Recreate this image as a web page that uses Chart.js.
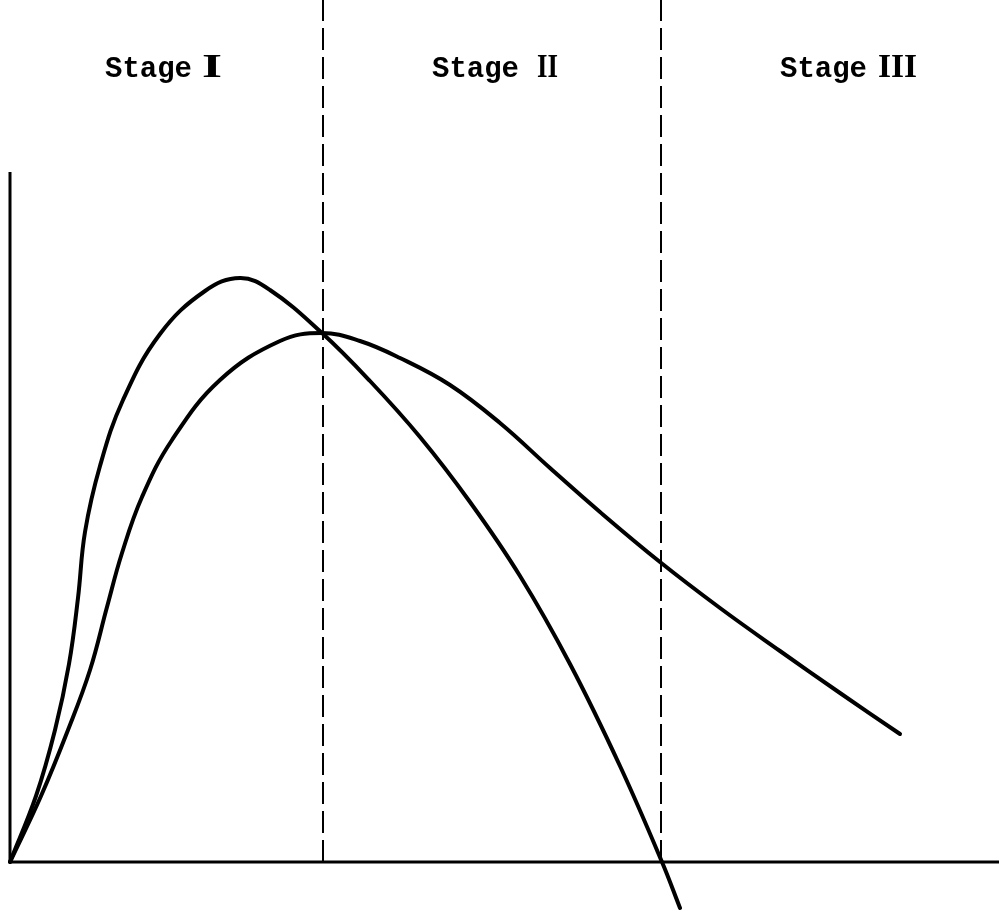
<!DOCTYPE html>
<html>
<head>
<meta charset="utf-8">
<script src="https://cdn.jsdelivr.net/npm/chart.js@4/dist/chart.umd.min.js"></script>
<style>
  html, body { margin: 0; padding: 0; background: #fff; }
  #wrap { width: 999px; height: 910px; }
</style>
</head>
<body>
<div id="wrap"><canvas id="stagesChart" width="999" height="910"></canvas></div>
<script>
// values (input on x, output on y, arbitrary units)
const mpX = [0, 2.6, 4.5, 5.9, 6.8, 7.5, 9.0, 11.3, 15.0, 19.5, 23.0, 26.0, 31.2, 36.0, 41.0, 46.0, 51.0, 56.0, 61.0, 65.2, 67.0];
const mpY = [0, 6.6, 13.2, 19.8, 26.4, 33.0, 39.6, 46.2, 52.8, 57.1, 58.4, 57.2, 52.9, 48.1, 42.5, 36.0, 28.6, 19.8, 9.6, 0, -4.6];

const apX = [0, 3.1, 5.8, 8.0, 9.7, 11.2, 13.2, 16.2, 21.0, 27.0, 31.2, 35.0, 39.0, 44.0, 49.0, 54.0, 59.0, 65.0, 71.0, 77.0, 83.0, 89.0];
const apY = [0, 6.6, 13.2, 19.2, 25.5, 30.9, 36.5, 42.2, 48.2, 52.1, 52.9, 52.1, 50.4, 47.7, 43.9, 39.4, 35.0, 30.0, 25.4, 21.1, 16.9, 12.8];

const stageBounds = [31.3, 65.1];   // dashed dividers
const stageTop = 86.2;
const yAxisTop = 69;
const xAxisEnd = 98.9;

const stageWords = ['Stage', 'Stage', 'Stage'];
const stageNumerals = ['I', 'II', 'III'];

function toPoints(xs, ys) {
    return xs.map((x, i) => ({ x: x, y: ys[i] }));
}

const datasets = [
    {   // y axis
        data: [{ x: 0, y: 0 }, { x: 0, y: yAxisTop }],
        borderColor: '#000', borderWidth: 3
    },
    {   // x axis
        data: [{ x: 0, y: 0 }, { x: xAxisEnd, y: 0 }],
        borderColor: '#000', borderWidth: 3
    },
    {
        label: 'Marginal product',
        data: toPoints(mpX, mpY),
        borderColor: '#000', borderWidth: 4,
        tension: 0.4,
        borderCapStyle: 'round', borderJoinStyle: 'round'
    },
    {
        label: 'Average product',
        data: toPoints(apX, apY),
        borderColor: '#000', borderWidth: 4,
        tension: 0.4,
        borderCapStyle: 'round', borderJoinStyle: 'round'
    }
];

stageBounds.forEach(b => {
    datasets.push({
        data: [{ x: b, y: 0 }, { x: b, y: stageTop }],
        borderColor: '#000', borderWidth: 2,
        borderDash: [22, 7]
    });
});

// stage names at the top of each region
const stageLabels = {
    id: 'stageLabels',
    afterDatasetsDraw(chart) {
        const ctx = chart.ctx;
        const xs = chart.scales.x, ys = chart.scales.y;
        const wordX = [9.5, 42.2, 77.0];
        const numX = [19.2, 52.7, 86.8];
        const numW = [2.0, 2.1, 3.9];
        const baseY = ys.getPixelForValue(78.5);
        ctx.save();
        ctx.fillStyle = '#000';
        ctx.textBaseline = 'alphabetic';
        stageWords.forEach((w, i) => {
            ctx.font = 'bold 29px "Liberation Mono"';
            ctx.fillText(w, xs.getPixelForValue(wordX[i]), baseY);
            // heavy, wide numerals like the typed original
            ctx.font = 'bold 33px "Liberation Serif"';
            const left = xs.getPixelForValue(numX[i]);
            const want = xs.getPixelForValue(numX[i] + numW[i]) - left;
            const have = ctx.measureText(stageNumerals[i]).width;
            ctx.save();
            ctx.translate(left, baseY);
            ctx.scale(want / have, 1);
            ctx.fillText(stageNumerals[i], 0, 0);
            ctx.restore();
        });
        ctx.restore();
    }
};

new Chart(document.getElementById('stagesChart').getContext('2d'), {
    type: 'line',
    data: { datasets: datasets },
    options: {
        responsive: false,
        animation: false,
        layout: { padding: 0 },
        elements: { point: { radius: 0 } },
        plugins: {
            legend: { display: false },
            tooltip: { enabled: false }
        },
        scales: {
            x: { type: 'linear', min: -1.0, max: xAxisEnd, display: false },
            y: { type: 'linear', min: -4.8, max: stageTop, display: false }
        },
        clip: false
    },
    plugins: [stageLabels]
});
</script>
</body>
</html>
